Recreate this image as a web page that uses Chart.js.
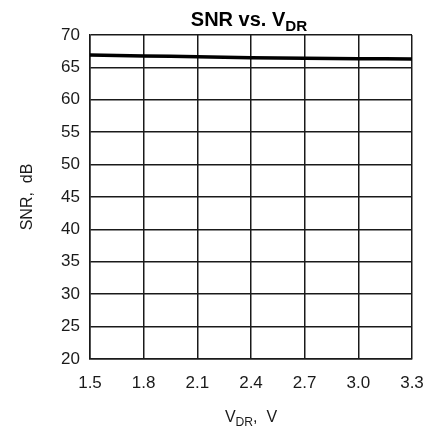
<!DOCTYPE html>
<html>
<head>
<meta charset="utf-8">
<script src="https://cdn.jsdelivr.net/npm/chart.js@4"></script>
<style>
  html, body { margin: 0; padding: 0; background: #fff; }
  canvas { display: block; }
</style>
</head>
<body>
<canvas id="snrChart" width="429" height="429"></canvas>
<script>
"use strict";

// data
const vdr = [1.5, 1.8, 2.1, 2.4, 2.7, 3.0, 3.3];
const snr = [66.9, 66.76, 66.65, 66.5, 66.4, 66.34, 66.3];
const yTicks = [20, 25, 30, 35, 40, 45, 50, 55, 60, 65, 70];

const tickFont = { family: "Liberation Sans", size: 17 };
const ink = "#1a1a1a";

// titles with subscripts drawn by hand
function drawSub(ctx, parts, cx, y, size, bold) {
  const w = bold ? "bold " : "";
  let total = 0;
  parts.forEach((p) => {
    ctx.font = w + (p.sub ? size * 0.76 : size) + "px " + p.family;
    total += ctx.measureText(p.t).width;
  });
  let x = cx - total / 2;
  parts.forEach((p) => {
    ctx.font = w + (p.sub ? size * 0.76 : size) + "px " + p.family;
    ctx.fillText(p.t, x, p.sub ? y + size * 0.25 : y);
    x += ctx.measureText(p.t).width;
  });
}

const titles = {
  id: "titles",
  afterDraw(chart) {
    const ctx = chart.ctx;
    const a = chart.chartArea;
    const cx = (a.left + a.right) / 2;
    ctx.save();
    ctx.fillStyle = "#000";
    ctx.textBaseline = "alphabetic";
    ctx.textAlign = "left";
    drawSub(ctx, [
      { t: "SNR vs. V", family: "Liberation Sans" },
      { t: "DR", family: "Liberation Sans", sub: true },
    ], cx - 2, 26, 20, true);
    ctx.fillStyle = ink;
    drawSub(ctx, [
      { t: "V", family: "Liberation Sans" },
      { t: "DR", family: "Liberation Sans", sub: true },
      { t: ",  V", family: "Liberation Sans" },
    ], cx, 422, 16, false);
    ctx.translate(32, 197);
    ctx.rotate(-Math.PI / 2);
    ctx.textAlign = "center";
    ctx.font = "16px Liberation Sans";
    ctx.fillText("SNR,  dB", 0, 0);
    ctx.restore();
  },
};

new Chart(document.getElementById("snrChart").getContext("2d"), {
  type: "line",
  data: {
    datasets: [
      {
        data: vdr.map((v, i) => ({ x: v, y: snr[i] })),
        borderColor: "#000",
        borderWidth: 3.5,
        pointRadius: 0,
        tension: 0.3,
      },
    ],
  },
  options: {
    responsive: false,
    animation: false,
    layout: { padding: { left: 0, top: 35, right: 17, bottom: 0 } },
    plugins: { legend: { display: false }, tooltip: { enabled: false } },
    scales: {
      x: {
        type: "linear",
        min: vdr[0],
        max: vdr[vdr.length - 1],
        afterBuildTicks: (s) => { s.ticks = vdr.map((v) => ({ value: v })); },
        afterFit: (s) => {
          s.height = 70;
          s.paddingLeft = 0;
          s.paddingRight = 0;
        },
        border: { color: ink, width: 1.5 },
        grid: { color: ink, lineWidth: 1.5, drawTicks: false },
        ticks: {
          color: ink,
          font: tickFont,
          padding: 14,
          maxRotation: 0,
          callback: (v) => v.toFixed(1),
        },
      },
      y: {
        min: yTicks[0],
        max: yTicks[yTicks.length - 1],
        afterBuildTicks: (s) => { s.ticks = yTicks.map((v) => ({ value: v })); },
        afterFit: (s) => {
          s.width = 90;
          s.paddingTop = 0;
          s.paddingBottom = 0;
        },
        border: { color: ink, width: 1.5 },
        grid: { color: ink, lineWidth: 1.5, drawTicks: false },
        ticks: { color: ink, font: tickFont, padding: 10 },
      },
    },
  },
  plugins: [titles],
});
</script>
</body>
</html>
